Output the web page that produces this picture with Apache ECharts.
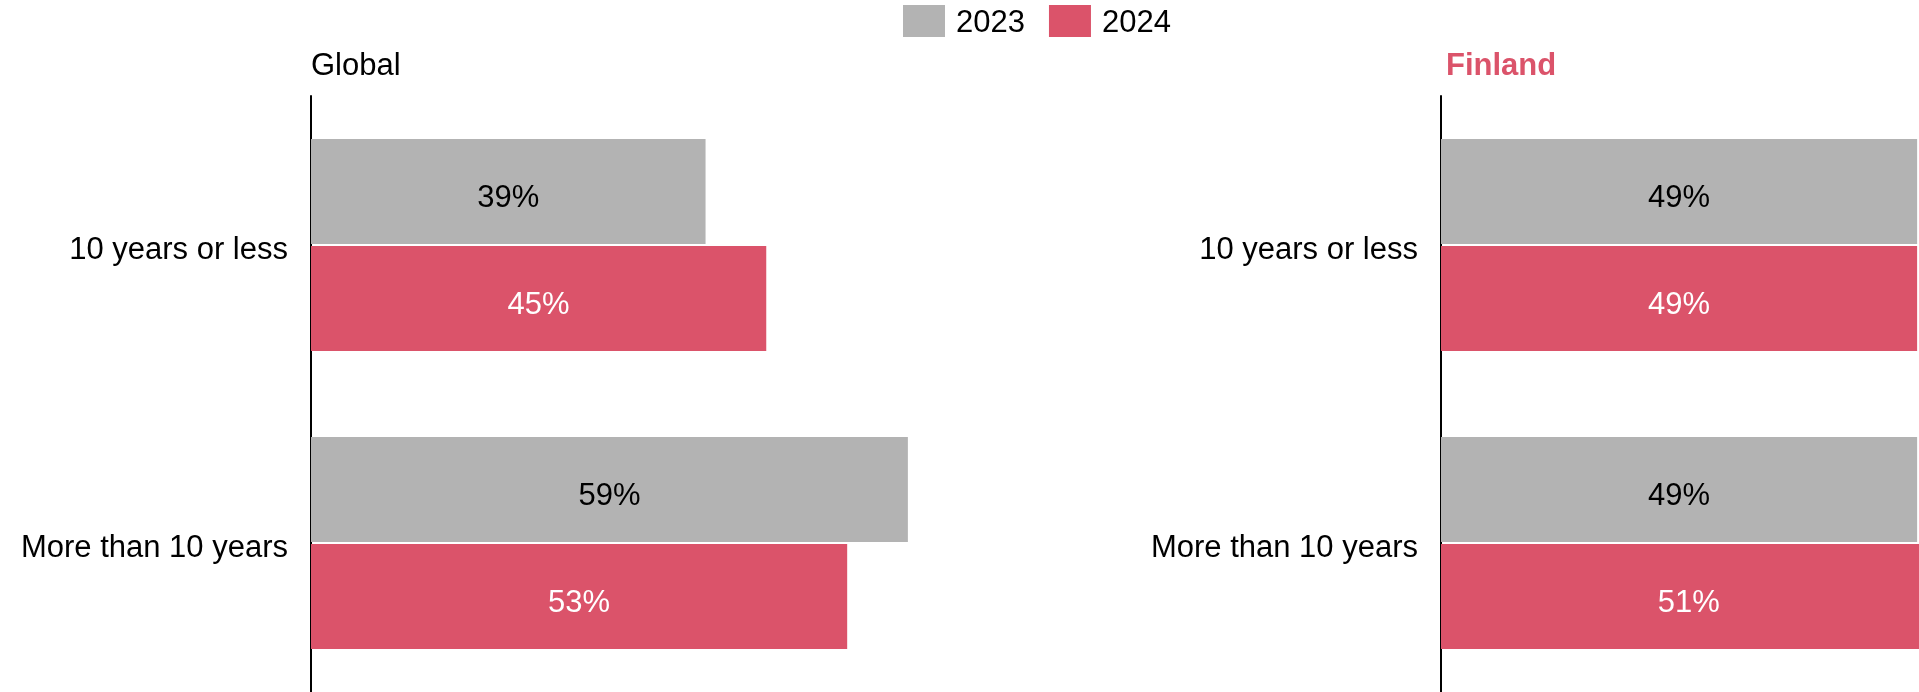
<!DOCTYPE html>
<html>
<head>
<meta charset="utf-8">
<script src="https://cdn.jsdelivr.net/npm/echarts@6/dist/echarts.min.js"></script>
<style>
  html, body { margin: 0; padding: 0; background: #ffffff; overflow: hidden; }
  /* the right-hand panel runs past the window edge, so the canvas is wider than the view */
  #chart { width: 2100px; height: 692px; }
</style>
</head>
<body>
<div id="chart"></div>
<script>
// Tenure groups (top to bottom)
const categories = ['10 years or less', 'More than 10 years'];
const seriesNames = ['2023', '2024'];

// Share of respondents, %
const global2023 = [39, 59];
const global2024 = [45, 53];
const finland2023 = [49, 49];
const finland2024 = [49, 51];

const panelTitles = ['Global', 'Finland'];

const GREY = '#b3b3b3';
const RED = '#db536a';
const FONT = '"Liberation Sans", Arial, Helvetica, sans-serif';

const chart = echarts.init(document.getElementById('chart'), null, { renderer: 'canvas' });

function valueAxis(gridIndex) {
  return {
    type: 'value', gridIndex: gridIndex, min: 0, max: 60,
    show: false, splitLine: { show: false }
  };
}

function categoryAxis(gridIndex) {
  return {
    type: 'category', gridIndex: gridIndex, data: categories, inverse: true,
    offset: 1,
    axisLine: { show: true, lineStyle: { color: '#000000', width: 2 } },
    axisTick: { show: false },
    axisLabel: {
      margin: 22, color: '#000000', fontSize: 31, fontFamily: FONT,
      verticalAlign: 'top', lineHeight: 10
    }
  };
}

function barSeries(name, data, idx, color, labelColor) {
  return {
    type: 'bar', name: name, data: data,
    xAxisIndex: idx, yAxisIndex: idx,
    barWidth: 105, barGap: '2%',
    itemStyle: { color: color },
    label: {
      show: true, position: 'inside', formatter: '{c}%', offset: [0, 7],
      color: labelColor, fontSize: 31, fontFamily: FONT
    },
    emphasis: { disabled: true }
  };
}

chart.setOption({
  animation: false,
  textStyle: { fontFamily: FONT },
  color: [GREY, RED],
  legend: {
    data: seriesNames,
    left: 903, top: 5, padding: 0,
    itemWidth: 42, itemHeight: 32, itemGap: 24,
    icon: 'rect',
    formatter: '{t|{name}}',
    textStyle: {
      fontSize: 31, color: '#000000', fontFamily: FONT,
      rich: { t: { fontSize: 31, fontFamily: FONT, padding: [5, 0, 0, 6] } }
    }
  },
  title: [
    { text: panelTitles[0], left: 311, top: 51, padding: 0,
      textStyle: { fontSize: 31, fontWeight: 'normal', color: '#000000', fontFamily: FONT } },
    { text: panelTitles[1], left: 1446, top: 51, padding: 0,
      textStyle: { fontSize: 31, fontWeight: 'bold', color: RED, fontFamily: FONT } }
  ],
  grid: [
    { left: 311, top: 96, width: 607, height: 600 },
    { left: 1441, top: 96, width: 583, height: 600 }
  ],
  xAxis: [valueAxis(0), valueAxis(1)],
  yAxis: [categoryAxis(0), categoryAxis(1)],
  series: [
    barSeries(seriesNames[0], global2023, 0, GREY, '#000000'),
    barSeries(seriesNames[1], global2024, 0, RED, '#ffffff'),
    barSeries(seriesNames[0], finland2023, 1, GREY, '#000000'),
    barSeries(seriesNames[1], finland2024, 1, RED, '#ffffff')
  ]
});
</script>
</body>
</html>
